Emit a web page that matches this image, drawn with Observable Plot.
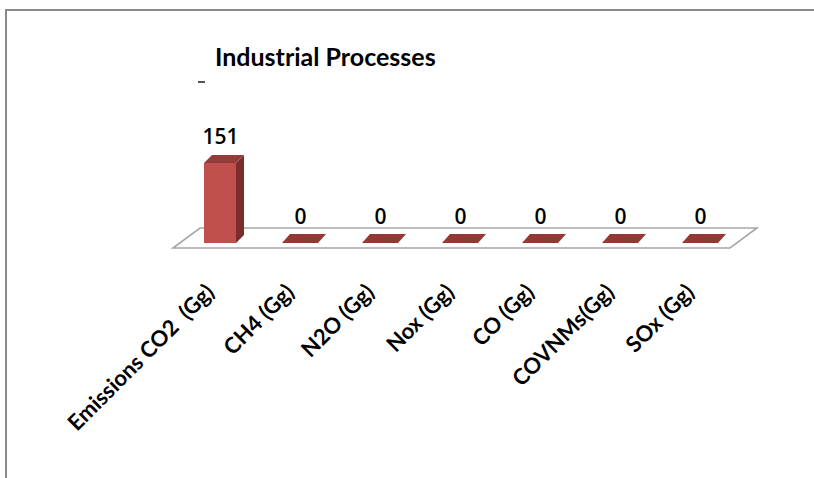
<!DOCTYPE html>
<html>
<head>
<meta charset="utf-8">
<script src="https://cdn.jsdelivr.net/npm/d3@7"></script>
<script src="https://cdn.jsdelivr.net/npm/@observablehq/plot@0.6"></script>
<style>
  html, body { margin: 0; padding: 0; background: #fff; }
  #wrap { position: relative; width: 814px; height: 478px; overflow: hidden; background: #fff; }
  #frame { position: absolute; left: 5px; top: 9px; width: 830px; height: 490px;
           border-top: 2px solid #8a8a8a; border-left: 2px solid #8a8a8a; box-sizing: border-box; }
  #title { position: absolute; left: 215px; top: 44px; font: bold 25px/25px Lato, sans-serif; color: #000;
           white-space: nowrap; }
  #dash { position: absolute; left: 198px; top: 81px; width: 7px; height: 2px; background: #555; }
  #chart { position: absolute; left: 0; top: 0; }
  #chart text { white-space: pre; }
</style>
</head>
<body>
<div id="wrap">
  <div id="frame"></div>
  <div id="title">Industrial Processes</div>
  <div id="dash"></div>
  <div id="chart"></div>
</div>
<script>
// ---- data ----
const categories = ["Emissions CO2  (Gg)", "CH4 (Gg)", "N2O (Gg)", "Nox (Gg)", "CO (Gg)", "COVNMs(Gg)", "SOx (Gg)"];
const values = [151, 0, 0, 0, 0, 0, 0];
const valueLabels = ["151", "0", "0", "0", "0", "0", "0"];

const data = categories.map((c, i) => ({cat: c, value: values[i], label: valueLabels[i]}));

// 3D depth offsets (style)
const DX = 8, DY = -8;

// floor: drawn from x/y scales
function floorMark(index, {x, y}) {
  const [x0, x1] = x.range();
  const y0 = y(0);
  const fl = x0 - 7, fr = x1 - 10, fy = y0 + 5;
  const pts = [[fl, fy], [fr, fy], [fr + 27, fy - 20], [fl + 27, fy - 20]];
  const g = d3.create("svg:g");
  g.append("polygon")
    .attr("points", pts.map(p => p.join(",")).join(" "))
    .attr("fill", "#fff").attr("stroke", "#a6a6a6").attr("stroke-width", 1.6);
  return g.node();
}

// side and top faces of the 3D bars, from the same scales
function facesMark(index, {x, y}) {
  const g = d3.create("svg:g");
  const bw = x.bandwidth();
  for (const d of data) {
    const bx = x(d.cat), yt = y(d.value), yb = y(0);
    if (d.value > 0) {
      g.append("polygon")
        .attr("points", [[bx + bw, yt], [bx + bw + DX, yt + DY], [bx + bw + DX, yb + DY], [bx + bw, yb]].map(p => p.join(",")).join(" "))
        .attr("fill", "#7b2d2b");
      g.append("polygon")
        .attr("points", [[bx, yt], [bx + DX, yt + DY], [bx + bw + DX, yt + DY], [bx + bw, yt]].map(p => p.join(",")).join(" "))
        .attr("fill", "#933b38");
    } else {
      g.append("polygon")
        .attr("points", [[bx - 2, yb], [bx + bw + 2, yb], [bx + bw + 2 + DX, yb + DY - 1], [bx - 2 + DX, yb + DY - 1]].map(p => p.join(",")).join(" "))
        .attr("fill", "#943836");
    }
  }
  return g.node();
}

const chart = Plot.plot({
  width: 814,
  height: 478,
  marginLeft: 180,
  marginRight: 74,
  marginTop: 163,
  marginBottom: 235,
  style: {background: "transparent", overflow: "visible"},
  x: {domain: categories, paddingInner: 0.6, paddingOuter: 0.3, axis: null},
  y: {domain: [0, 151], axis: null},
  marks: [
    floorMark,
    Plot.barY(data.filter(d => d.value > 0), {x: "cat", y: "value", fill: "#c0504d"}),
    facesMark,
    Plot.text(data, {x: "cat", y: "value", text: "label", dy: -26, fontSize: 21, fontWeight: 600,
      fontFamily: "Open Sans", fill: "#000"}),
    Plot.text(data, {x: "cat", y: () => 0, text: "cat", dx: -10, dy: 45, rotate: -45,
      textAnchor: "end", fontSize: 22, fontWeight: "bold", fontFamily: "Lato", fill: "#000"})
  ]
});
document.getElementById("chart").appendChild(chart);
</script>
</body>
</html>
